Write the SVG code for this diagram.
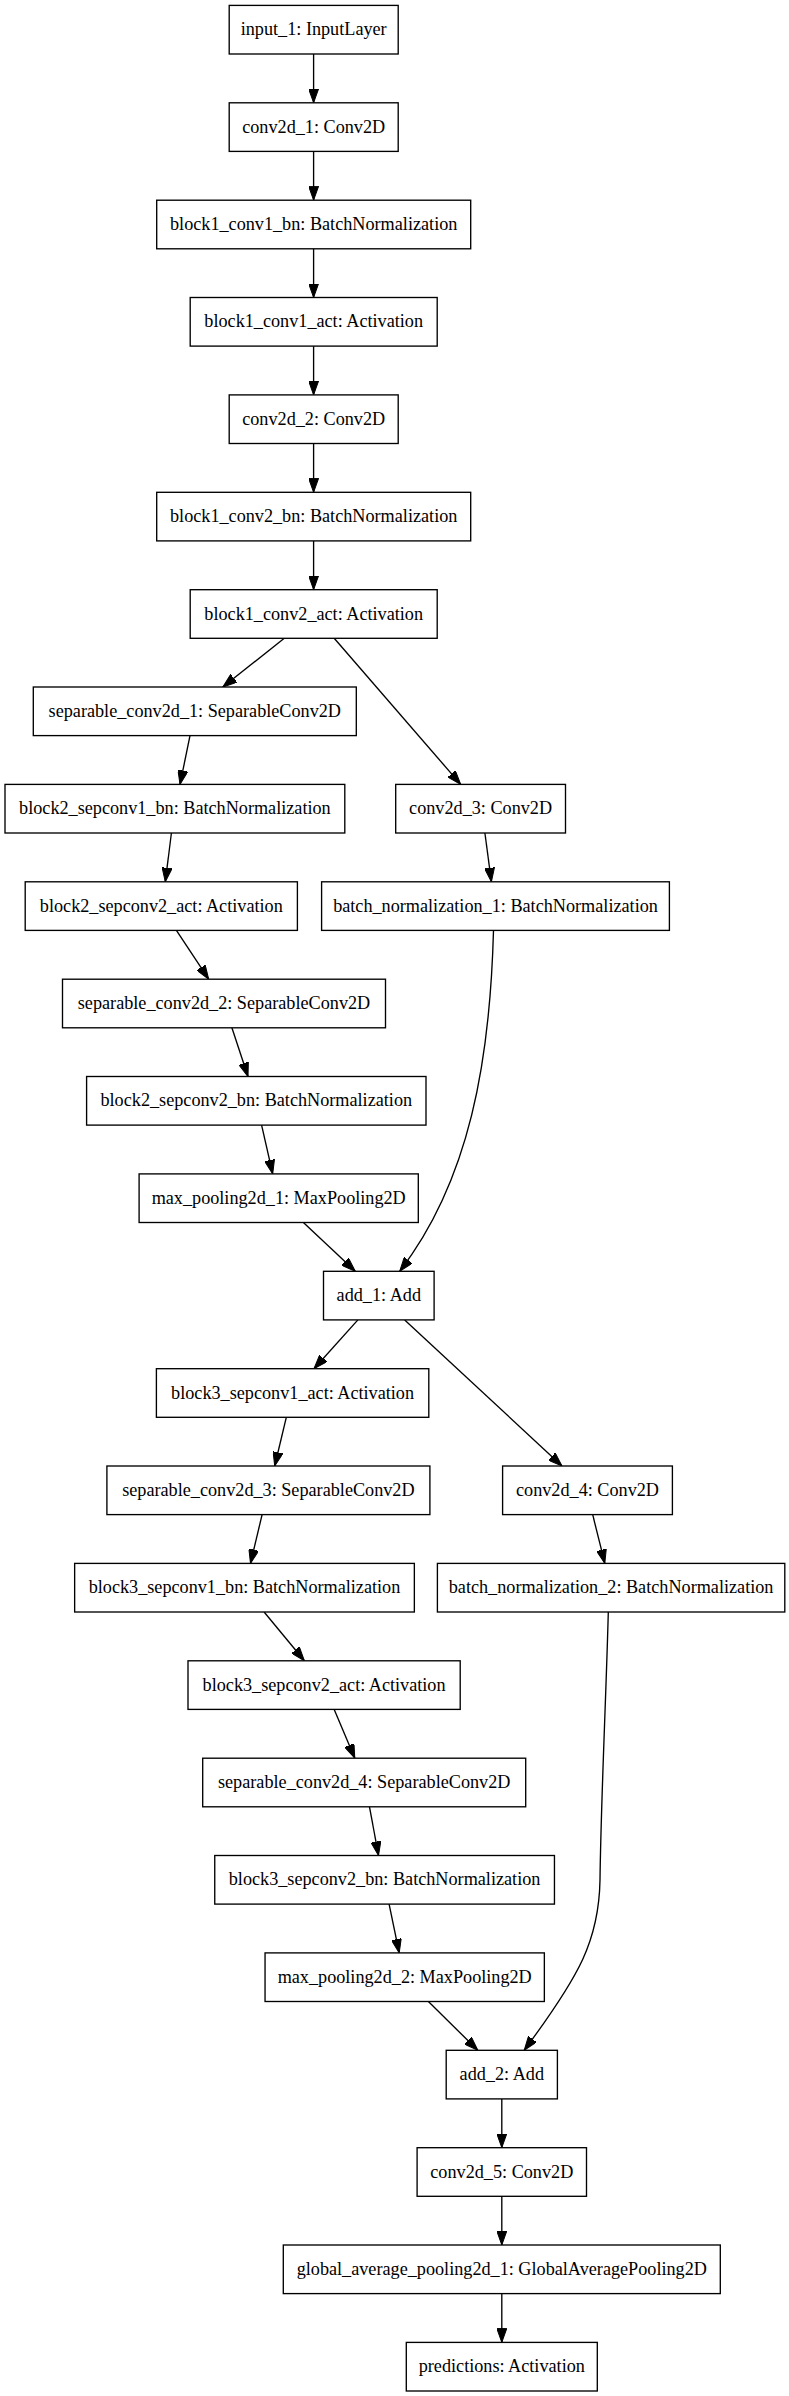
<svg xmlns="http://www.w3.org/2000/svg" width="789" height="2396" viewBox="0 0 789 2396">
<style>
.node rect{fill:#fff;stroke:#000;stroke-width:1.35}
.node text{font-family:"Liberation Serif","Times New Roman",serif;font-size:18.2px;fill:#000;text-anchor:middle}
.edges path{fill:none;stroke:#000;stroke-width:1.35;marker-end:url(#arr)}
</style>
<defs>
<marker id="arr" markerUnits="userSpaceOnUse" markerWidth="14" markerHeight="10" viewBox="0 0 14 10" refX="14" refY="5" orient="auto">
<path d="M0,0 L14,5 L0,10 z" fill="#000" stroke="#000" stroke-width="1"/>
</marker>
</defs>
<rect x="0" y="0" width="789" height="2396" fill="#fff"/>
<g class="edges" id="edges">
<path d="M313.6,54 L313.6,102.8"/>
<path d="M313.6,151.4 L313.6,200.2"/>
<path d="M313.6,248.8 L313.6,297.5"/>
<path d="M313.6,346.1 L313.6,394.9"/>
<path d="M313.6,443.5 L313.6,492.3"/>
<path d="M313.6,540.9 L313.6,589.7"/>
<path d="M284.3,638.3 L222.8,687"/>
<path d="M334.2,638.3 L460.7,784.4"/>
<path d="M190,735.6 L180,784.4"/>
<path d="M171.4,833 L165.3,881.8"/>
<path d="M484.9,833 L491.4,881.8"/>
<path d="M176.4,930.4 L208.7,979.2"/>
<path d="M231.9,1027.8 L248,1076.5"/>
<path d="M261.6,1125.1 L272.7,1173.9"/>
<path d="M303.4,1222.5 L355.3,1271.3"/>
<path d="M493.5,930.4 C490,1060 470,1180 399.7,1271.3"/>
<path d="M357.9,1319.9 L314,1368.7"/>
<path d="M404.7,1319.9 L562,1466"/>
<path d="M286.3,1417.3 L274.7,1466"/>
<path d="M262.1,1514.6 L250.5,1563.4"/>
<path d="M592.7,1514.6 L604.8,1563.4"/>
<path d="M264.1,1612 L304.4,1660.8"/>
<path d="M334.2,1709.4 L354.8,1758.2"/>
<path d="M369.5,1806.8 L378.5,1855.5"/>
<path d="M389.1,1904.1 L399.2,1952.9"/>
<path d="M428.4,2001.5 L477.8,2050.3"/>
<path d="M608.3,1612 C606,1700 601,1800 600,1880 C599,1940 580,1975 524.2,2050.3"/>
<path d="M501.8,2098.9 L501.8,2147.7"/>
<path d="M501.8,2196.3 L501.8,2245"/>
<path d="M501.8,2293.6 L501.8,2342.4"/>
</g>
<g class="node" id="input_1"><rect x="229.2" y="5.4" width="169" height="48.6"/><text x="313.7" y="35.2">input_1: InputLayer</text></g>
<g class="node" id="conv2d_1"><rect x="229.2" y="102.8" width="169" height="48.6"/><text x="313.7" y="132.6">conv2d_1: Conv2D</text></g>
<g class="node" id="block1_conv1_bn"><rect x="156.7" y="200.2" width="314" height="48.6"/><text x="313.7" y="230">block1_conv1_bn: BatchNormalization</text></g>
<g class="node" id="block1_conv1_act"><rect x="190.2" y="297.5" width="247" height="48.6"/><text x="313.7" y="327.3">block1_conv1_act: Activation</text></g>
<g class="node" id="conv2d_2"><rect x="229.2" y="394.9" width="169" height="48.6"/><text x="313.7" y="424.7">conv2d_2: Conv2D</text></g>
<g class="node" id="block1_conv2_bn"><rect x="156.7" y="492.3" width="314" height="48.6"/><text x="313.7" y="522.1">block1_conv2_bn: BatchNormalization</text></g>
<g class="node" id="block1_conv2_act"><rect x="190.2" y="589.7" width="247" height="48.6"/><text x="313.7" y="619.5">block1_conv2_act: Activation</text></g>
<g class="node" id="separable_conv2d_1"><rect x="33.3" y="687" width="323" height="48.6"/><text x="194.8" y="716.8">separable_conv2d_1: SeparableConv2D</text></g>
<g class="node" id="block2_sepconv1_bn"><rect x="5" y="784.4" width="339.8" height="48.6"/><text x="174.9" y="814.2">block2_sepconv1_bn: BatchNormalization</text></g>
<g class="node" id="conv2d_3"><rect x="395.7" y="784.4" width="169.8" height="48.6"/><text x="480.6" y="814.2">conv2d_3: Conv2D</text></g>
<g class="node" id="block2_sepconv2_act"><rect x="25.2" y="881.8" width="272.2" height="48.6"/><text x="161.3" y="911.6">block2_sepconv2_act: Activation</text></g>
<g class="node" id="batch_normalization_1"><rect x="321.6" y="881.8" width="347.8" height="48.6"/><text x="495.5" y="911.6">batch_normalization_1: BatchNormalization</text></g>
<g class="node" id="separable_conv2d_2"><rect x="62.5" y="979.2" width="323" height="48.6"/><text x="224" y="1009">separable_conv2d_2: SeparableConv2D</text></g>
<g class="node" id="block2_sepconv2_bn"><rect x="86.6" y="1076.5" width="339.4" height="48.6"/><text x="256.3" y="1106.3">block2_sepconv2_bn: BatchNormalization</text></g>
<g class="node" id="max_pooling2d_1"><rect x="139.1" y="1173.9" width="279.2" height="48.6"/><text x="278.7" y="1203.7">max_pooling2d_1: MaxPooling2D</text></g>
<g class="node" id="add_1"><rect x="323.5" y="1271.3" width="110.6" height="48.6"/><text x="378.8" y="1301.1">add_1: Add</text></g>
<g class="node" id="block3_sepconv1_act"><rect x="156.4" y="1368.7" width="272.4" height="48.6"/><text x="292.6" y="1398.5">block3_sepconv1_act: Activation</text></g>
<g class="node" id="separable_conv2d_3"><rect x="106.9" y="1466" width="323" height="48.6"/><text x="268.4" y="1495.8">separable_conv2d_3: SeparableConv2D</text></g>
<g class="node" id="conv2d_4"><rect x="502.6" y="1466" width="169.8" height="48.6"/><text x="587.5" y="1495.8">conv2d_4: Conv2D</text></g>
<g class="node" id="block3_sepconv1_bn"><rect x="74.65" y="1563.4" width="339.7" height="48.6"/><text x="244.5" y="1593.2">block3_sepconv1_bn: BatchNormalization</text></g>
<g class="node" id="batch_normalization_2"><rect x="437.4" y="1563.4" width="347.4" height="48.6"/><text x="611.1" y="1593.2">batch_normalization_2: BatchNormalization</text></g>
<g class="node" id="block3_sepconv2_act"><rect x="188" y="1660.8" width="272.2" height="48.6"/><text x="324.1" y="1690.6">block3_sepconv2_act: Activation</text></g>
<g class="node" id="separable_conv2d_4"><rect x="202.7" y="1758.2" width="323" height="48.6"/><text x="364.2" y="1788">separable_conv2d_4: SeparableConv2D</text></g>
<g class="node" id="block3_sepconv2_bn"><rect x="214.75" y="1855.5" width="339.7" height="48.6"/><text x="384.6" y="1885.3">block3_sepconv2_bn: BatchNormalization</text></g>
<g class="node" id="max_pooling2d_2"><rect x="265.05" y="1952.9" width="279.3" height="48.6"/><text x="404.7" y="1982.7">max_pooling2d_2: MaxPooling2D</text></g>
<g class="node" id="add_2"><rect x="446.2" y="2050.3" width="111.2" height="48.6"/><text x="501.8" y="2080.1">add_2: Add</text></g>
<g class="node" id="conv2d_5"><rect x="417.1" y="2147.7" width="169.4" height="48.6"/><text x="501.8" y="2177.5">conv2d_5: Conv2D</text></g>
<g class="node" id="global_average_pooling2d_1"><rect x="283.3" y="2245" width="437" height="48.6"/><text x="501.8" y="2274.8">global_average_pooling2d_1: GlobalAveragePooling2D</text></g>
<g class="node" id="predictions"><rect x="406.3" y="2342.4" width="191" height="48.6"/><text x="501.8" y="2372.2">predictions: Activation</text></g>
</svg>
